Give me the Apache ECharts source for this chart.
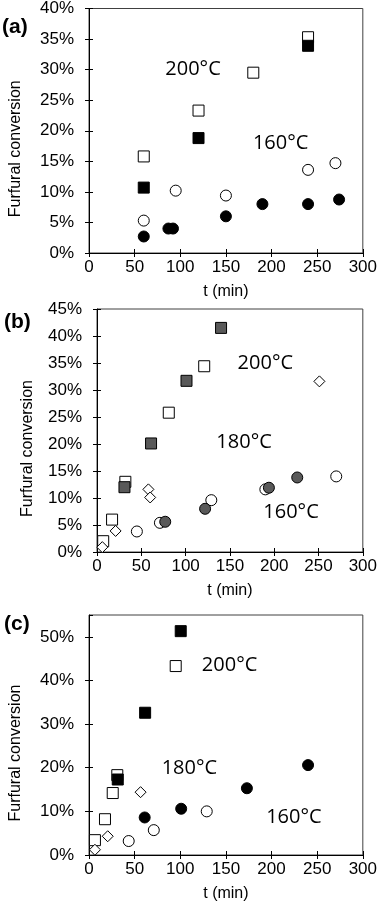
<!DOCTYPE html>
<html><head><meta charset="utf-8">
<script src="https://cdn.jsdelivr.net/npm/echarts@6/dist/echarts.min.js"></script>
<style>html,body{margin:0;padding:0;background:#fff}#c{width:380px;height:906px}</style>
</head><body><div id="c"></div>
<script>
// ---- data (t in min, conversion in %) ----
const xTicks = [0, 50, 100, 150, 200, 250, 300];
const panelLabels = ['(a)', '(b)', '(c)'];
const yMaxes = [40, 45, 55];
const yIntervals = [5, 5, 10];

// panel (a)
const a200Open   = [[60,15.8],[120,23.3],[180,29.5],[240,35.3]];
const a200Filled = [[60,10.7],[120,18.8],[240,33.9]];
const a160Open   = [[60,5.3],[95,10.2],[150,9.4],[240,13.6],[270,14.7]];
const a160Filled = [[60,2.7],[87,4.0],[92,4.0],[150,6.0],[190,8.0],[240,8.0],[274,8.75]];
// panel (b)
const b200Open   = [[7,2.0],[17,6.0],[32,13.0],[81,25.8],[121,34.4]];
const b200Filled = [[31,12.0],[61,20.1],[101,31.7],[140,41.5]];
const b180       = [[6,0.9],[21,3.9],[58,11.6],[60,10.1],[251,31.6]];
const b160Open   = [[45,3.8],[71,5.4],[129,9.6],[190,11.6],[270,14.0]];
const b160Filled = [[77,5.6],[122,8.0],[194,11.9],[226,13.8]];
// panel (c)
const c200Open   = [[6.5,3.4],[17.5,8.2],[26,14.2],[31,18.3],[95,43.3]];
const c200Filled = [[31.5,17.3],[61.5,32.6],[100.5,51.3]];
const c180       = [[6.5,1.2],[20.5,4.3],[56.5,14.4]];
const c160Open   = [[43.5,3.2],[71,5.7],[129,10.0]];
const c160Filled = [[61,8.6],[101,10.6],[173,15.3],[240,20.6]];

// temperature annotations [t, conversion, text]
const aNotes = [[114,30.1,'200°C'],[210,17.9,'160°C']];
const bNotes = [[190,35.0,'200°C'],[166,20.4,'180°C'],[219,7.3,'160°C']];
const cNotes = [[154,43.5,'200°C'],[110,19.9,'180°C'],[224.5,8.7,'160°C']];

// ---- layout ----
const grids = [
  {left: 89, top: 7,   width: 276, height: 246},
  {left: 97, top: 309, width: 268, height: 243},
  {left: 89, top: 615, width: 276, height: 240}
];
const labelPos = [[2, 17], [4, 312], [4, 614]];

const tickFont = 'Liberation Sans, Arial, sans-serif';
const xAxes = [], yAxes = [];
grids.forEach((g, i) => {
  xAxes.push({
    type: 'value', gridIndex: i, min: xTicks[0], max: xTicks[xTicks.length-1],
    interval: xTicks[1]-xTicks[0], position: 'bottom',
    axisLine: {show: true, lineStyle: {color: '#000', width: 1}},
    axisTick: {show: true, length: 4, lineStyle: {color: '#000'}},
    axisLabel: {fontSize: 17, color: '#000', fontFamily: tickFont, margin: 6},
    splitLine: {show: false},
    name: 't (min)', nameLocation: 'middle', nameGap: 31,
    nameTextStyle: {fontSize: 16, color: '#000', fontFamily: tickFont}
  });
  yAxes.push({
    type: 'value', gridIndex: i, min: 0, max: yMaxes[i], interval: yIntervals[i],
    position: 'left',
    axisLine: {show: true, lineStyle: {color: '#000', width: 1}},
    axisTick: {show: true, length: 4, lineStyle: {color: '#000'}},
    axisLabel: {fontSize: 17, color: '#000', fontFamily: tickFont, margin: 15,
                formatter: '{value}%', showMaxLabel: yMaxes[i] % yIntervals[i] === 0},
    splitLine: {show: false},
    name: 'Furfural conversion', nameLocation: 'middle', nameGap: i === 1 ? 61 : 65,
    nameTextStyle: {fontSize: 16, color: '#000', fontFamily: tickFont, padding: [0, 36, 0, 0]}
  });
});
// duplicate axes to draw the inner half of the crossing ticks
grids.forEach((g, i) => {
  xAxes.push({
    type: 'value', gridIndex: i, min: xTicks[0], max: xTicks[xTicks.length-1],
    interval: xTicks[1]-xTicks[0], position: 'bottom', offset: 0,
    axisLine: {show: false}, axisTick: {show: true, inside: true, length: 4, lineStyle: {color: '#000'}},
    axisLabel: {show: false}, splitLine: {show: false}
  });
  yAxes.push({
    type: 'value', gridIndex: i, min: 0, max: yMaxes[i], interval: yIntervals[i],
    position: 'left', offset: 0,
    axisLine: {show: false}, axisTick: {show: true, inside: true, length: 4, lineStyle: {color: '#000'}},
    axisLabel: {show: false}, splitLine: {show: false}
  });
});

function pts(gi, data, symbol, fill, size, z) {
  return {
    type: 'scatter', xAxisIndex: gi, yAxisIndex: gi, data: data,
    symbol: symbol, symbolSize: size, z: z, silent: true,
    itemStyle: {color: fill, borderColor: '#000', borderWidth: 1, opacity: 1},
    emphasis: {disabled: true}
  };
}
function notes(gi, arr) {
  return {
    type: 'scatter', xAxisIndex: gi, yAxisIndex: gi, z: 10, silent: true,
    data: arr.map(n => ({value: [n[0], n[1]], name: n[2]})),
    symbol: 'circle', symbolSize: 0.1, itemStyle: {color: 'rgba(0,0,0,0)'},
    label: {show: true, position: 'inside', formatter: p => p.name, opacity: 1,
            fontSize: 20, color: '#000', textBorderWidth: 0,
            fontFamily: 'Open Sans, Noto Sans, sans-serif'}
  };
}
const DARK = '#595959';
const series = [
  pts(0, a200Open, 'rect', '#fff', 11, 2),
  pts(0, a200Filled, 'rect', '#000', 11, 3),
  pts(0, a160Open, 'circle', '#fff', 11, 2),
  pts(0, a160Filled, 'circle', '#000', 11, 3),
  notes(0, aNotes),

  pts(1, b200Open, 'rect', '#fff', 11, 2),
  pts(1, b200Filled, 'rect', DARK, 11, 3),
  pts(1, b180, 'diamond', '#fff', 11, 2),
  pts(1, b160Open, 'circle', '#fff', 11, 2),
  pts(1, b160Filled, 'circle', DARK, 11, 3),
  notes(1, bNotes),

  pts(2, c200Open, 'rect', '#fff', 11, 2),
  pts(2, c200Filled, 'rect', '#000', 11, 3),
  pts(2, c180, 'diamond', '#fff', 11, 2),
  pts(2, c160Open, 'circle', '#fff', 11, 2),
  pts(2, c160Filled, 'circle', '#000', 11, 3),
  notes(2, cNotes)
];

const chart = echarts.init(document.getElementById('c'), null, {renderer: 'canvas'});
chart.setOption({
  animation: false,
  backgroundColor: '#fff',
  grid: grids.map(g => Object.assign({show: true, borderColor: '#404040', borderWidth: 1, backgroundColor: 'transparent'}, g)),
  xAxis: xAxes,
  yAxis: yAxes,
  series: series,
  graphic: panelLabels.map((t, i) => ({
    type: 'text', left: labelPos[i][0], top: labelPos[i][1], silent: true,
    style: {text: t, fontSize: 21, fontWeight: 'bold', fill: '#000', fontFamily: tickFont}
  }))
});
</script></body></html>
